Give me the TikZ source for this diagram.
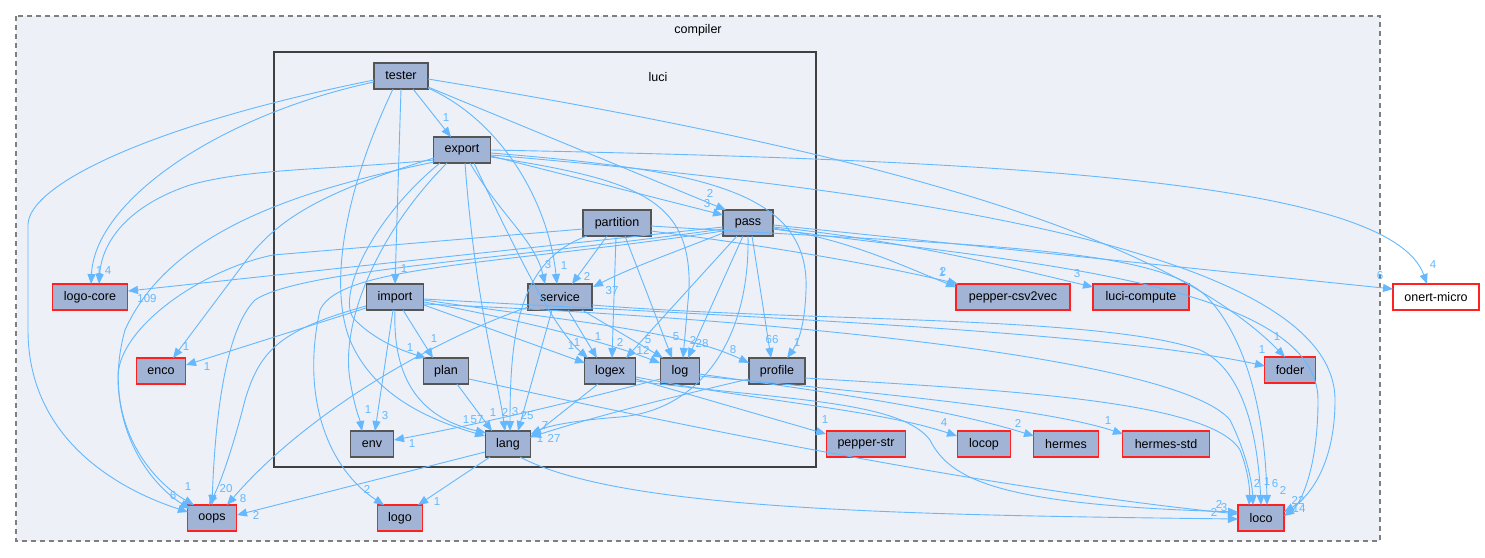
\documentclass[tikz,border=0pt]{standalone}
\usepackage{fontspec}
\setmainfont{Liberation Sans}
\usetikzlibrary{arrows.meta,calc}
\definecolor{edgecol}{HTML}{63B8FF}
\definecolor{nodefill}{HTML}{A2B4D6}
\definecolor{nodeborder}{HTML}{555555}
\definecolor{clusterfill}{HTML}{EDF0F7}
\definecolor{dashcol}{HTML}{7F7F7F}
\definecolor{lucicol}{HTML}{404040}
\definecolor{extred}{HTML}{FF2020}
\tikzset{
  dirbox/.style={draw=nodeborder, fill=nodefill, line width=1.1pt, minimum height=26pt, inner sep=0pt,
    font=\fontsize{12.5}{14}\selectfont},
  extbox/.style={dirbox, draw=extred},
  extwhite/.style={extbox, fill=white},
  dep/.style={draw=edgecol, line width=0.9pt, -{Triangle[length=10pt,width=8pt]}},
  lbl/.style={text=edgecol, font=\fontsize{11.5}{13}\selectfont, inner sep=0pt},
  ttl/.style={font=\fontsize{12.5}{14}\selectfont, inner sep=0pt},
}
\begin{document}
\begin{tikzpicture}[x=1pt,y=-1pt]
\useasboundingbox (0,0) rectangle (1485,557);
% clusters
\draw[dashcol, fill=clusterfill, line width=1.3pt, dash pattern=on 5pt off 4pt] (16,16) rectangle (1380,541);
\node[ttl] (compilerlbl) at (698,30) {compiler};
\draw[lucicol, fill=clusterfill, line width=2pt] (274,52) rectangle (816,467);
\node[ttl] (lucilbl) at (658,77) {luci};

% nodes
\node[dirbox, minimum width=54pt] (tester) at (401,76) {tester};
\node[dirbox, minimum width=57pt] (export) at (462,150) {export};
\node[dirbox, minimum width=68pt] (partition) at (617,223) {partition};
\node[dirbox, minimum width=50pt] (pass) at (748,223) {pass};
\node[dirbox, minimum width=57pt] (import) at (395,297) {import};
\node[dirbox, minimum width=64pt] (service) at (560,297) {service};
\node[dirbox, minimum width=45pt] (plan) at (446,371) {plan};
\node[dirbox, minimum width=51pt] (logex) at (610,371) {logex};
\node[dirbox, minimum width=39pt] (log) at (680,371) {log};
\node[dirbox, minimum width=56pt] (profile) at (777,371) {profile};
\node[dirbox, minimum width=43pt] (env) at (372,444) {env};
\node[dirbox, minimum width=45pt] (lang) at (508,444) {lang};
\node[extbox, minimum width=75pt] (logocore) at (90,297) {logo-core};
\node[extbox, minimum width=49pt] (enco) at (161,371) {enco};
\node[extbox, minimum width=49pt] (oops) at (212,518) {oops};
\node[extbox, minimum width=45pt] (logo) at (400,518) {logo};
\node[extbox, minimum width=114pt] (csv) at (1013,297) {pepper-csv2vec};
\node[extbox, minimum width=96pt] (lcomp) at (1141,297) {luci-compute};
\node[extwhite, minimum width=86pt] (onert) at (1436,297) {onert-micro};
\node[extbox, minimum width=51pt] (foder) at (1290,370) {foder};
\node[extbox, minimum width=79pt] (pstr) at (866,444) {pepper-str};
\node[extbox, minimum width=53pt] (locop) at (984,444) {locop};
\node[extbox, minimum width=65pt] (hermes) at (1066,444) {hermes};
\node[extbox, minimum width=87pt] (hstd) at (1166,444) {hermes-std};
\node[extbox, minimum width=46pt] (loco) at (1261,518) {loco};

% edges from tester
\draw[dep] ($(tester)+(12,13)$) -- ($(export)+(-11,-13)$);
\draw[dep] ($(tester)+(0,13)$) -- ($(import)+(0,-13)$);
\draw[dep] ($(tester)+(-27,6)$) .. controls (220,115) and (95,200) .. ($(logocore)+(1,-13)$);
\draw[dep] ($(tester)+(-27,4)$) .. controls (150,125) and (28,185) .. (28,225) -- (28,330) .. controls (28,440) and (120,490) .. ($(oops)+(-24,-6)$);
\draw[dep] ($(tester)+(27,12)$) .. controls (500,120) and (548,200) .. ($(service)+(-3,-13)$);
\draw[dep] ($(tester)+(27,11)$) -- ($(pass)+(-22,-13)$);
\draw[dep] ($(tester)+(27,3)$) .. controls (800,140) and (1150,220) .. ($(foder)+(-5,-13)$);
\draw[dep] ($(tester)+(-8,13)$) .. controls (345,190) and (330,280) .. (348,335) .. controls (370,395) and (430,420) .. ($(lang)+(-23,-8)$);

% edges from export
\draw[dep] ($(export)+(-28,10)$) .. controls (330,170) and (250,168) .. (190,185) .. controls (130,205) and (102,240) .. ($(logocore)+(9,-13)$);
\draw[dep] ($(export)+(8,13)$) .. controls (500,215) and (535,240) .. ($(service)+(-15,-13)$);
\draw[dep] ($(export)+(29,6)$) -- ($(pass)+(-25,-8)$);
\draw[dep] ($(export)+(-15,13)$) .. controls (380,230) and (340,320) .. (350,380) .. controls (355,410) and (360,420) .. ($(env)+(-10,-13)$);
\draw[dep] ($(export)+(-22,13)$) .. controls (370,220) and (335,300) .. (355,320) .. controls (375,340) and (400,350) .. ($(plan)+(-20,-13)$);
\draw[dep] ($(export)+(-28,8)$) .. controls (330,190) and (280,215) .. (245,262) -- ($(enco)+(12,-13)$);
\draw[dep] ($(export)+(-28,12)$) .. controls (300,190) and (170,230) .. (125,330) .. controls (100,420) and (150,480) .. ($(oops)+(-18,-13)$);
\draw[dep] ($(export)+(3,13)$) .. controls (475,300) and (498,380) .. ($(lang)+(-3,-13)$);
\draw[dep] ($(export)+(12,13)$) .. controls (520,260) and (555,330) .. ($(logex)+(-22,-13)$);
\draw[dep] ($(export)+(29,7)$) .. controls (640,180) and (692,200) .. (689,290) -- ($(log)+(3,-13)$);
\draw[dep] ($(export)+(29,3)$) .. controls (700,170) and (810,190) .. (806,290) .. controls (805,320) and (800,340) .. ($(profile)+(10,-13)$);
\draw[dep] ($(export)+(29,0)$) .. controls (1000,160) and (1390,180) .. ($(onert)+(-9,-13)$);
\draw[dep] ($(export)+(29,5)$) .. controls (900,190) and (1335,250) .. (1335,400) .. controls (1335,470) and (1305,500) .. ($(loco)+(23,-6)$);

% edges from import
\draw[dep] ($(import)+(8,13)$) -- ($(plan)+(-13,-13)$);
\draw[dep] ($(import)+(-2,13)$) -- ($(env)+(3,-13)$);
\draw[dep] ($(import)+(0,13)$) .. controls (392,390) and (430,420) .. ($(lang)+(-22,-11)$);
\draw[dep] ($(import)+(-29,11)$) -- ($(enco)+(25,-6)$);
\draw[dep] ($(import)+(-29,9)$) .. controls (280,330) and (260,350) .. (245,400) .. controls (235,440) and (222,480) .. ($(oops)+(-3,-13)$);
\draw[dep] ($(import)+(29,8)$) -- ($(logex)+(-25,-8)$);
\draw[dep] ($(import)+(29,5)$) .. controls (520,320) and (600,340) .. ($(log)+(-20,-8)$);
\draw[dep] ($(import)+(29,3)$) .. controls (560,320) and (680,330) .. ($(profile)+(-28,-8)$);
\draw[dep] ($(import)+(29,2)$) .. controls (700,315) and (1100,330) .. ($(foder)+(-25,-4)$);
\draw[dep] ($(import)+(29,7)$) .. controls (800,320) and (1180,360) .. (1230,420) .. controls (1245,450) and (1252,480) .. ($(loco)+(-8,-13)$);

% edges from service
\draw[dep] ($(service)+(8,13)$) -- ($(logex)+(-13,-13)$);
\draw[dep] ($(service)+(22,13)$) -- ($(log)+(-17,-13)$);
\draw[dep] ($(service)+(-8,13)$) -- ($(lang)+(10,-13)$);
\draw[dep] ($(service)+(-32,10)$) .. controls (420,345) and (300,420) .. ($(oops)+(15,-13)$);
\draw[dep] ($(service)+(32,8)$) .. controls (800,322) and (1100,315) .. (1200,350) .. controls (1245,370) and (1258,440) .. ($(loco)+(0,-13)$);

% edges from partition
\draw[dep] ($(partition)+(-10,13)$) -- ($(service)+(12,-13)$);
\draw[dep] ($(partition)+(-1,13)$) -- ($(logex)+(2,-13)$);
\draw[dep] ($(partition)+(8,13)$) -- ($(log)+(-8,-13)$);
\draw[dep] ($(partition)+(-30,13)$) .. controls (520,260) and (510,330) .. ($(lang)+(2,-13)$);
\draw[dep] ($(partition)+(-34,6)$) -- (273,255) .. controls (200,270) and (115,330) .. (118,380) .. controls (120,450) and (160,490) .. ($(oops)+(-22,-9)$);
\draw[dep] ($(partition)+(34,8)$) .. controls (800,250) and (900,270) .. ($(csv)+(-55,-13)$);
\draw[dep] ($(partition)+(34,3)$) .. controls (950,245) and (1150,245) .. (1205,295) .. controls (1255,345) and (1266,440) .. ($(loco)+(6,-13)$);

% edges from pass
\draw[dep] ($(pass)+(-25,10)$) .. controls (680,250) and (630,268) .. ($(service)+(33,-10)$);
\draw[dep] ($(pass)+(-11,13)$) -- ($(logex)+(16,-13)$);
\draw[dep] ($(pass)+(-5,13)$) -- ($(log)+(8,-13)$);
\draw[dep] ($(pass)+(4,13)$) -- ($(profile)+(-6,-13)$);
\draw[dep] ($(pass)+(0,13)$) .. controls (750,340) and (700,410) .. (620,417) .. controls (580,420) and (550,425) .. ($(lang)+(23,-10)$);
\draw[dep] ($(pass)+(-25,4)$) -- ($(logocore)+(38,-6)$);
\draw[dep] ($(pass)+(-25,6)$) .. controls (500,260) and (300,270) .. (255,300) .. controls (225,330) and (215,420) .. ($(oops)+(0,-13)$);
\draw[dep] ($(pass)+(-25,8)$) .. controls (500,265) and (340,265) .. (320,310) .. controls (300,400) and (330,470) .. ($(logo)+(-16,-13)$);
\draw[dep] ($(pass)+(25,5)$) .. controls (850,240) and (900,265) .. ($(csv)+(-57,-10)$);
\draw[dep] ($(pass)+(25,4)$) .. controls (900,240) and (1000,265) .. ($(lcomp)+(-48,-10)$);
\draw[dep] ($(pass)+(25,2)$) -- ($(onert)+(-43,-8)$);
\draw[dep] ($(pass)+(25,6)$) .. controls (1000,260) and (1318,280) .. (1318,400) .. controls (1318,470) and (1300,505) .. ($(loco)+(23,-2)$);

% edges from plan, logex, log, profile, lang
\draw[dep] ($(plan)+(11,13)$) -- ($(lang)+(-16,-13)$);
\draw[dep] ($(plan)+(23,8)$) .. controls (700,430) and (1000,490) .. ($(loco)+(-23,-4)$);
\draw[dep] ($(logex)+(-12,13)$) -- ($(lang)+(22,-6)$);
\draw[dep] ($(logex)+(26,8)$) -- ($(pstr)+(-40,-10)$);
\draw[dep] ($(logex)+(26,6)$) .. controls (750,400) and (880,410) .. ($(locop)+(-27,-8)$);
\draw[dep] ($(logex)+(26,10)$) .. controls (780,400) and (900,400) .. (930,440) .. controls (950,480) and (1000,505) .. ($(loco)+(-23,-6)$);
\draw[dep] ($(log)+(-20,8)$) .. controls (600,395) and (500,420) .. ($(env)+(22,-4)$);
\draw[dep] ($(log)+(19,3)$) .. controls (850,395) and (950,410) .. ($(hermes)+(-32,-8)$);
\draw[dep] ($(log)+(19,5)$) .. controls (900,395) and (1050,410) .. ($(hstd)+(-43,-10)$);
\draw[dep] ($(profile)+(-28,8)$) .. controls (680,395) and (600,415) .. ($(lang)+(23,-7)$);
\draw[dep] ($(profile)+(28,7)$) .. controls (1000,390) and (1210,400) .. (1240,450) .. controls (1248,470) and (1250,490) .. ($(loco)+(-12,-13)$);
\draw[dep] ($(lang)+(-23,8)$) -- ($(oops)+(25,-3)$);
\draw[dep] ($(lang)+(-18,13)$) -- ($(logo)+(18,-13)$);
\draw[dep] ($(lang)+(12,13)$) .. controls (620,510) and (900,515) .. ($(loco)+(-23,1)$);

% edge labels
\node[lbl] (l1) at (446,118) {1};
\node[lbl] (l2) at (404,269) {1};
\node[lbl] (l3) at (99,271) {1};
\node[lbl] (l4) at (108,271) {4};
\node[lbl] (l5) at (173,496) {6};
\node[lbl] (l6) at (564,266) {1};
\node[lbl] (l7) at (548,265) {3};
\node[lbl] (l8) at (710,193) {2};
\node[lbl] (l9) at (707,204) {3};
\node[lbl] (l10) at (1277,337) {1};
\node[lbl] (l11) at (466,420) {1};
\node[lbl] (l12) at (368,410) {1};
\node[lbl] (l13) at (410,348) {1};
\node[lbl] (l14) at (186,347) {1};
\node[lbl] (l15) at (188,487) {1};
\node[lbl] (l16) at (505,412) {2};
\node[lbl] (l17) at (577,343) {1};
\node[lbl] (l18) at (693,340) {2};
\node[lbl] (l19) at (797,343) {1};
\node[lbl] (l20) at (1433,265) {4};
\node[lbl] (l21) at (1298,500) {22};
\node[lbl] (l22) at (434,339) {1};
\node[lbl] (l23) at (385,416) {3};
\node[lbl] (l24) at (477,420) {57};
\node[lbl] (l25) at (207,367) {1};
\node[lbl] (l26) at (226,489) {20};
\node[lbl] (l27) at (571,346) {1};
\node[lbl] (l28) at (643,350) {12};
\node[lbl] (l29) at (733,350) {8};
\node[lbl] (l30) at (1262,350) {1};
\node[lbl] (l31) at (1257,483) {2};
\node[lbl] (l32) at (598,337) {1};
\node[lbl] (l33) at (648,340) {5};
\node[lbl] (l34) at (527,416) {25};
\node[lbl] (l35) at (243,499) {8};
\node[lbl] (l36) at (1267,482) {1};
\node[lbl] (l37) at (587,276) {2};
\node[lbl] (l38) at (620,342) {2};
\node[lbl] (l39) at (676,337) {5};
\node[lbl] (l40) at (515,412) {3};
\node[lbl] (l41) at (942,273) {1};
\node[lbl] (l42) at (1275,484) {6};
\node[lbl] (l43) at (612,291) {37};
\node[lbl] (l44) at (702,344) {28};
\node[lbl] (l45) at (772,340) {66};
\node[lbl] (l46) at (554,438) {27};
\node[lbl] (l47) at (147,299) {109};
\node[lbl] (l49) at (367,489) {2};
\node[lbl] (l50) at (943,271) {2};
\node[lbl] (l51) at (1077,274) {3};
\node[lbl] (l52) at (1380,276) {6};
\node[lbl] (l53) at (1299,509) {14};
\node[lbl] (l54) at (493,413) {1};
\node[lbl] (l55) at (1219,504) {2};
\node[lbl] (l56) at (545,426) {7};
\node[lbl] (l57) at (825,420) {1};
\node[lbl] (l58) at (944,423) {4};
\node[lbl] (l59) at (1224,508) {3};
\node[lbl] (l60) at (412,444) {1};
\node[lbl] (l61) at (1018,423) {2};
\node[lbl] (l62) at (1108,421) {1};
\node[lbl] (l63) at (540,439) {1};
\node[lbl] (l64) at (1283,490) {2};
\node[lbl] (l65) at (256,515) {2};
\node[lbl] (l66) at (437,502) {1};
\node[lbl] (l67) at (1214,512) {2};
\end{tikzpicture}
\end{document}
